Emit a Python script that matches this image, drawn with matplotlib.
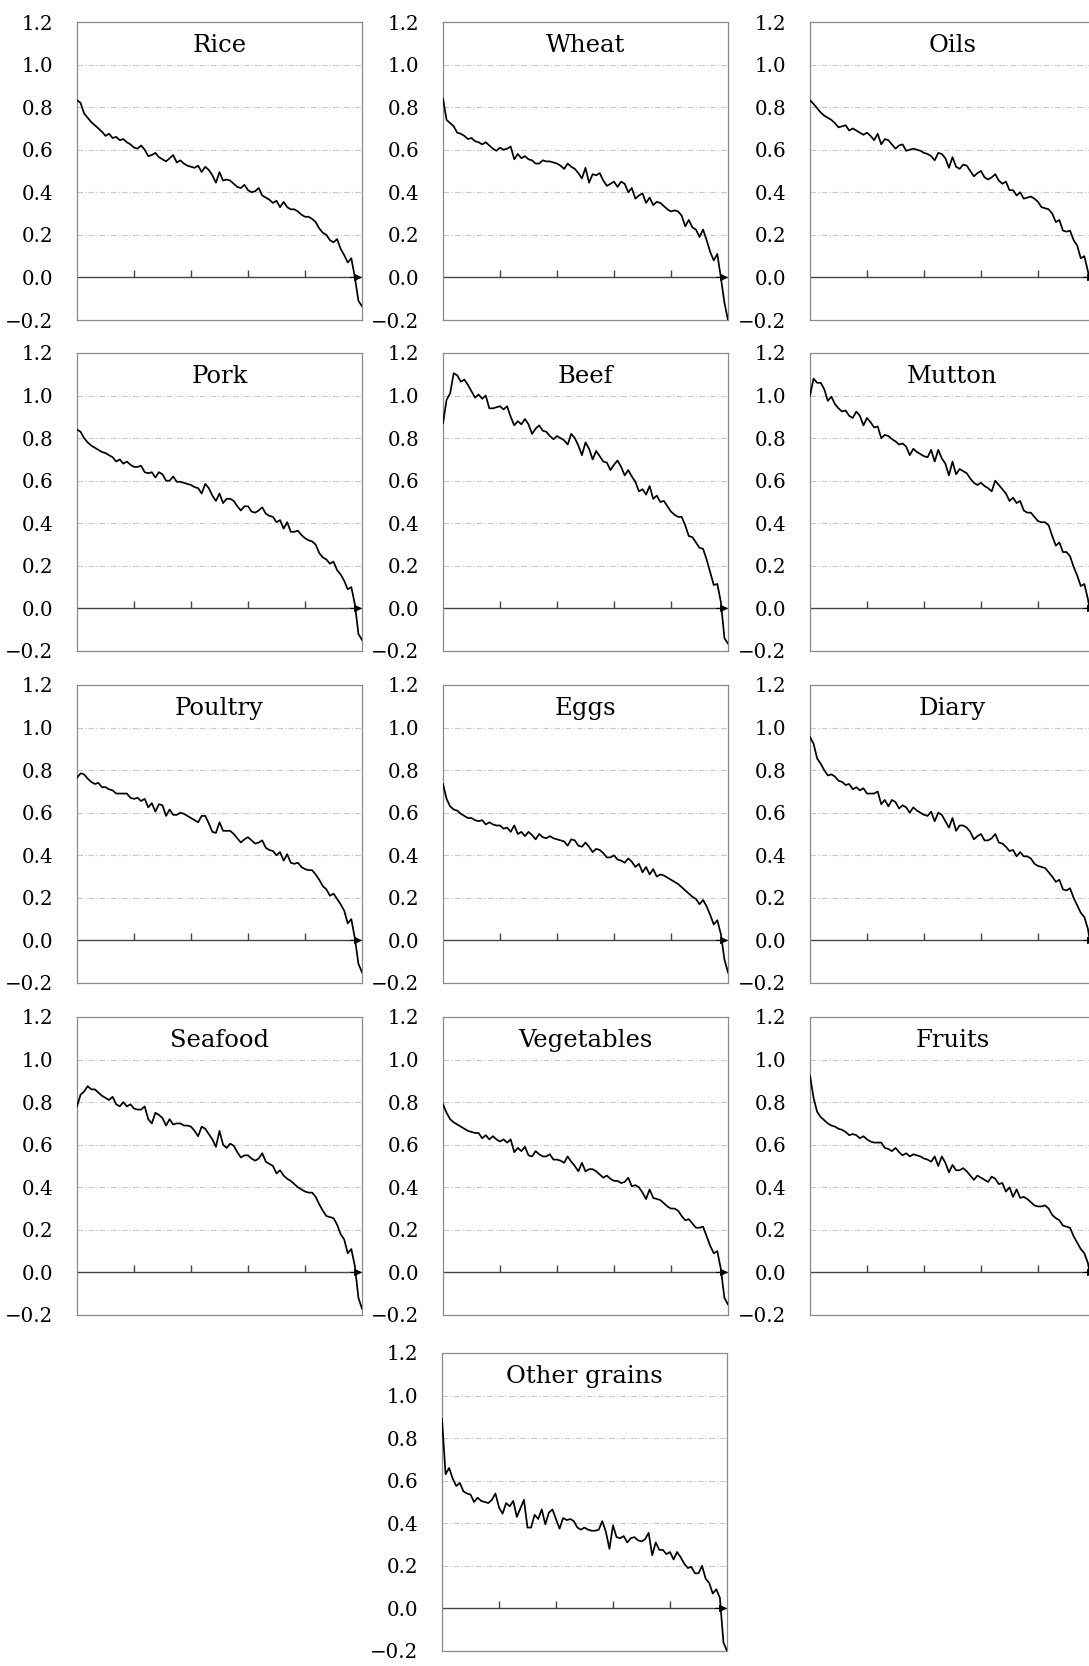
import numpy as np
import matplotlib.pyplot as plt

# panel titles
titles = ["Rice", "Wheat", "Oils",
          "Pork", "Beef", "Mutton",
          "Poultry", "Eggs", "Diary",
          "Seafood", "Vegetables", "Fruits",
          "Other grains"]

rice = [0.833, 0.82, 0.77, 0.75, 0.73, 0.715, 0.70, 0.685, 0.665, 0.675,
        0.655, 0.66, 0.645, 0.65, 0.635, 0.625, 0.61, 0.605, 0.62, 0.60,
        0.57, 0.575, 0.585, 0.565, 0.555, 0.545, 0.56, 0.575, 0.54, 0.55,
        0.535, 0.525, 0.52, 0.515, 0.525, 0.495, 0.52, 0.505, 0.48, 0.445,
        0.495, 0.455, 0.46, 0.455, 0.44, 0.425, 0.42, 0.435, 0.41, 0.40,
        0.405, 0.42, 0.385, 0.375, 0.365, 0.35, 0.36, 0.33, 0.355, 0.33,
        0.32, 0.32, 0.31, 0.295, 0.285, 0.285, 0.275, 0.26, 0.23, 0.21,
        0.20, 0.175, 0.165, 0.18, 0.135, 0.105, 0.07, 0.09, 0.0, -0.11,
        -0.135]

wheat = [0.84, 0.74, 0.725, 0.71, 0.68, 0.675, 0.665, 0.65, 0.655, 0.64,
         0.635, 0.625, 0.635, 0.62, 0.605, 0.595, 0.61, 0.60, 0.605, 0.615,
         0.555, 0.58, 0.56, 0.57, 0.555, 0.55, 0.535, 0.535, 0.55, 0.545,
         0.545, 0.54, 0.535, 0.525, 0.51, 0.535, 0.52, 0.51, 0.49, 0.465,
         0.515, 0.445, 0.485, 0.48, 0.49, 0.455, 0.43, 0.44, 0.45, 0.425,
         0.45, 0.44, 0.40, 0.42, 0.37, 0.385, 0.395, 0.35, 0.375, 0.34,
         0.355, 0.35, 0.335, 0.32, 0.31, 0.315, 0.31, 0.29, 0.24, 0.27,
         0.235, 0.225, 0.19, 0.225, 0.175, 0.12, 0.08, 0.11, 0.0, -0.12,
         -0.20]

oils = [0.833, 0.815, 0.795, 0.775, 0.76, 0.75, 0.74, 0.725, 0.705, 0.71,
        0.715, 0.69, 0.70, 0.69, 0.68, 0.67, 0.68, 0.665, 0.645, 0.675,
        0.625, 0.65, 0.645, 0.625, 0.605, 0.62, 0.625, 0.595, 0.60, 0.605,
        0.60, 0.595, 0.585, 0.58, 0.57, 0.55, 0.585, 0.58, 0.56, 0.515,
        0.565, 0.52, 0.51, 0.53, 0.525, 0.50, 0.475, 0.49, 0.50, 0.47,
        0.46, 0.47, 0.485, 0.455, 0.44, 0.45, 0.41, 0.41, 0.385, 0.40,
        0.37, 0.375, 0.38, 0.37, 0.355, 0.33, 0.325, 0.32, 0.30, 0.26,
        0.27, 0.22, 0.215, 0.22, 0.175, 0.15, 0.09, 0.10, 0.03, -0.06,
        -0.15]

pork = [0.84, 0.83, 0.80, 0.78, 0.765, 0.755, 0.745, 0.735, 0.73, 0.72,
        0.71, 0.69, 0.70, 0.68, 0.69, 0.675, 0.665, 0.665, 0.67, 0.64,
        0.635, 0.64, 0.615, 0.64, 0.63, 0.60, 0.60, 0.62, 0.595, 0.595,
        0.59, 0.585, 0.58, 0.57, 0.565, 0.54, 0.585, 0.565, 0.53, 0.505,
        0.54, 0.495, 0.515, 0.515, 0.505, 0.48, 0.46, 0.48, 0.48, 0.455,
        0.45, 0.46, 0.475, 0.445, 0.435, 0.43, 0.405, 0.415, 0.375, 0.405,
        0.36, 0.36, 0.365, 0.345, 0.33, 0.32, 0.315, 0.30, 0.26, 0.24,
        0.23, 0.21, 0.22, 0.18, 0.16, 0.13, 0.09, 0.10, 0.02, -0.12,
        -0.148]

beef = [0.87, 0.98, 1.01, 1.105, 1.095, 1.065, 1.075, 1.05, 1.02, 0.99,
        1.005, 0.985, 1.00, 0.94, 0.94, 0.945, 0.95, 0.935, 0.95, 0.90,
        0.86, 0.88, 0.865, 0.89, 0.865, 0.82, 0.845, 0.86, 0.835, 0.83,
        0.81, 0.795, 0.81, 0.80, 0.79, 0.77, 0.82, 0.80, 0.765, 0.72,
        0.78, 0.75, 0.70, 0.74, 0.715, 0.69, 0.685, 0.65, 0.675, 0.695,
        0.665, 0.625, 0.65, 0.62, 0.595, 0.55, 0.56, 0.535, 0.575, 0.515,
        0.53, 0.50, 0.505, 0.48, 0.455, 0.44, 0.43, 0.43, 0.39, 0.34,
        0.335, 0.31, 0.285, 0.28, 0.23, 0.17, 0.11, 0.115, 0.03, -0.14,
        -0.165]

mutton = [1.0, 1.08, 1.06, 1.06, 1.03, 0.975, 0.995, 0.96, 0.94, 0.925,
          0.93, 0.905, 0.895, 0.925, 0.905, 0.86, 0.895, 0.875, 0.85, 0.855,
          0.80, 0.815, 0.81, 0.795, 0.785, 0.77, 0.775, 0.76, 0.72, 0.75,
          0.735, 0.725, 0.715, 0.71, 0.745, 0.69, 0.745, 0.705, 0.68, 0.625,
          0.69, 0.63, 0.655, 0.645, 0.635, 0.61, 0.59, 0.58, 0.59, 0.575,
          0.565, 0.55, 0.60, 0.58, 0.56, 0.54, 0.505, 0.52, 0.495, 0.505,
          0.46, 0.45, 0.45, 0.43, 0.41, 0.405, 0.405, 0.39, 0.34, 0.295,
          0.31, 0.265, 0.265, 0.245, 0.195, 0.155, 0.105, 0.115, 0.045, -0.06,
          -0.15]

poultry = [0.765, 0.785, 0.78, 0.76, 0.745, 0.735, 0.74, 0.72, 0.72, 0.71,
           0.705, 0.69, 0.69, 0.69, 0.69, 0.67, 0.665, 0.67, 0.655, 0.665,
           0.625, 0.645, 0.605, 0.64, 0.635, 0.585, 0.615, 0.59, 0.59, 0.60,
           0.595, 0.585, 0.575, 0.565, 0.555, 0.585, 0.585, 0.55, 0.51, 0.505,
           0.555, 0.515, 0.515, 0.515, 0.50, 0.48, 0.46, 0.475, 0.485, 0.47,
           0.455, 0.46, 0.47, 0.435, 0.425, 0.42, 0.40, 0.415, 0.375, 0.405,
           0.365, 0.36, 0.365, 0.345, 0.335, 0.33, 0.33, 0.31, 0.285, 0.255,
           0.24, 0.21, 0.22, 0.195, 0.17, 0.14, 0.08, 0.10, 0.01, -0.11,
           -0.15]

eggs = [0.735, 0.665, 0.63, 0.615, 0.61, 0.595, 0.585, 0.575, 0.575, 0.565,
        0.56, 0.565, 0.545, 0.555, 0.545, 0.54, 0.54, 0.525, 0.53, 0.51,
        0.54, 0.50, 0.51, 0.49, 0.51, 0.495, 0.475, 0.50, 0.485, 0.48,
        0.49, 0.48, 0.475, 0.47, 0.465, 0.445, 0.475, 0.47, 0.445, 0.44,
        0.46, 0.44, 0.415, 0.43, 0.425, 0.41, 0.39, 0.39, 0.40, 0.38,
        0.375, 0.365, 0.385, 0.37, 0.345, 0.36, 0.32, 0.345, 0.31, 0.335,
        0.30, 0.31, 0.305, 0.295, 0.285, 0.275, 0.265, 0.25, 0.235, 0.22,
        0.205, 0.195, 0.17, 0.19, 0.16, 0.12, 0.075, 0.095, 0.03, -0.09,
        -0.15]

diary = [0.955, 0.925, 0.855, 0.83, 0.80, 0.775, 0.78, 0.77, 0.75, 0.745,
         0.73, 0.735, 0.71, 0.72, 0.705, 0.715, 0.69, 0.69, 0.69, 0.70,
         0.64, 0.66, 0.63, 0.66, 0.65, 0.62, 0.635, 0.625, 0.60, 0.625,
         0.61, 0.60, 0.59, 0.585, 0.605, 0.56, 0.60, 0.59, 0.56, 0.53,
         0.575, 0.515, 0.54, 0.54, 0.53, 0.51, 0.475, 0.49, 0.50, 0.47,
         0.47, 0.48, 0.50, 0.46, 0.455, 0.44, 0.42, 0.425, 0.395, 0.415,
         0.395, 0.395, 0.385, 0.36, 0.35, 0.345, 0.34, 0.32, 0.30, 0.275,
         0.285, 0.24, 0.235, 0.245, 0.20, 0.165, 0.13, 0.11, 0.055, -0.05,
         -0.15]

seafood = [0.78, 0.835, 0.85, 0.875, 0.86, 0.86, 0.845, 0.83, 0.82, 0.81,
           0.825, 0.79, 0.78, 0.80, 0.78, 0.79, 0.77, 0.765, 0.765, 0.78,
           0.72, 0.70, 0.75, 0.74, 0.725, 0.69, 0.72, 0.695, 0.70, 0.70,
           0.69, 0.69, 0.685, 0.665, 0.64, 0.685, 0.675, 0.65, 0.625, 0.59,
           0.665, 0.60, 0.585, 0.605, 0.595, 0.565, 0.54, 0.55, 0.55, 0.535,
           0.525, 0.535, 0.56, 0.52, 0.51, 0.50, 0.465, 0.48, 0.455, 0.44,
           0.43, 0.415, 0.40, 0.39, 0.38, 0.375, 0.375, 0.355, 0.32, 0.29,
           0.265, 0.26, 0.255, 0.225, 0.18, 0.155, 0.09, 0.11, 0.03, -0.12,
           -0.17]

vegetables = [0.79, 0.75, 0.72, 0.705, 0.695, 0.685, 0.675, 0.665, 0.66, 0.655,
              0.655, 0.63, 0.645, 0.625, 0.64, 0.625, 0.615, 0.625, 0.61, 0.625,
              0.565, 0.585, 0.57, 0.59, 0.55, 0.545, 0.57, 0.555, 0.545, 0.545,
              0.555, 0.53, 0.53, 0.525, 0.515, 0.545, 0.52, 0.50, 0.475, 0.515,
              0.475, 0.485, 0.485, 0.475, 0.46, 0.445, 0.455, 0.44, 0.43, 0.43,
              0.42, 0.425, 0.445, 0.405, 0.41, 0.40, 0.375, 0.345, 0.39, 0.35,
              0.345, 0.34, 0.325, 0.31, 0.30, 0.30, 0.29, 0.265, 0.245, 0.25,
              0.23, 0.21, 0.21, 0.215, 0.17, 0.125, 0.09, 0.10, 0.015, -0.12,
              -0.15]

fruits = [0.925, 0.82, 0.755, 0.73, 0.715, 0.70, 0.69, 0.685, 0.675, 0.67,
          0.66, 0.645, 0.65, 0.645, 0.63, 0.64, 0.625, 0.615, 0.61, 0.61,
          0.61, 0.585, 0.58, 0.57, 0.585, 0.565, 0.55, 0.56, 0.545, 0.555,
          0.55, 0.545, 0.535, 0.53, 0.52, 0.545, 0.50, 0.545, 0.515, 0.47,
          0.505, 0.48, 0.48, 0.49, 0.475, 0.455, 0.435, 0.455, 0.445, 0.435,
          0.425, 0.45, 0.44, 0.415, 0.42, 0.38, 0.40, 0.355, 0.39, 0.35,
          0.355, 0.345, 0.33, 0.315, 0.31, 0.31, 0.315, 0.30, 0.27, 0.255,
          0.245, 0.22, 0.215, 0.21, 0.17, 0.14, 0.11, 0.09, 0.045, -0.05,
          -0.15]

other_grains = [0.89, 0.63, 0.66, 0.61, 0.575, 0.59, 0.55, 0.54, 0.535, 0.50,
                0.52, 0.505, 0.50, 0.495, 0.51, 0.54, 0.475, 0.445, 0.495, 0.48,
                0.505, 0.43, 0.47, 0.51, 0.38, 0.38, 0.44, 0.42, 0.465, 0.395,
                0.45, 0.465, 0.42, 0.375, 0.425, 0.415, 0.42, 0.41, 0.38, 0.37,
                0.38, 0.37, 0.365, 0.365, 0.37, 0.41, 0.36, 0.28, 0.39, 0.335,
                0.33, 0.34, 0.31, 0.33, 0.335, 0.32, 0.315, 0.325, 0.355, 0.25,
                0.31, 0.275, 0.275, 0.255, 0.265, 0.23, 0.265, 0.24, 0.21, 0.19,
                0.195, 0.165, 0.165, 0.20, 0.14, 0.12, 0.07, 0.09, 0.05, -0.16,
                -0.20]

series = [rice, wheat, oils, pork, beef, mutton, poultry, eggs, diary,
          seafood, vegetables, fruits, other_grains]

yticks = [-0.2, 0.0, 0.2, 0.4, 0.6, 0.8, 1.0, 1.2]
grid_levels = [0.2, 0.4, 0.6, 0.8, 1.0]
xmarks = [0.2, 0.4, 0.6, 0.8]

plt.rcParams['font.family'] = ['DejaVu Serif']

W, H = 1089, 1666
fig = plt.figure(figsize=(W / 100, H / 100), dpi=100)

# panel boxes in pixels (left, top)
col_left = [77, 443, 810]
row_top = [22, 353, 685, 1017]
pw, ph = 285, 298
boxes = [(col_left[c], row_top[r]) for r in range(4) for c in range(3)]
boxes.append((442, 1353))

for (px, py), name, vals in zip(boxes, titles, series):
    ax = fig.add_axes([px / W, 1 - (py + ph) / H, pw / W, ph / H])
    x = np.linspace(0, 1, len(vals))
    ax.set_xlim(0, 1)
    ax.set_ylim(-0.2, 1.2)

    for g in grid_levels:
        ax.axhline(g, color='#c8c8c8', lw=0.8, ls=(0, (5, 2, 1, 2)), zorder=1)
    ax.axhline(0, color='#444444', lw=1.0, zorder=2)
    ax.vlines(xmarks, 0, 0.035, color='#444444', lw=1.0, zorder=2)
    ax.annotate('', xy=(1.0, 0), xytext=(0.96, 0),
                arrowprops=dict(arrowstyle='-|>', color='black', lw=0.8,
                                mutation_scale=11, shrinkA=0, shrinkB=0),
                annotation_clip=False, zorder=4)

    ax.plot(x, vals, color='black', lw=1.25, zorder=3)

    ax.set_yticks(yticks)
    ax.set_yticklabels([f"{t:.1f}".replace('-', '\u2212') for t in yticks])
    ax.set_xticks([])
    ax.tick_params(axis='y', length=0, pad=17, labelsize=14.3)
    for s in ax.spines.values():
        s.set_color('#8a8a8a')
        s.set_linewidth(0.9)

    ax.text(0.5, 0.9, name, transform=ax.transAxes, ha='center',
            va='baseline', fontsize=17.5)

fig.savefig('out.png', dpi=100)
